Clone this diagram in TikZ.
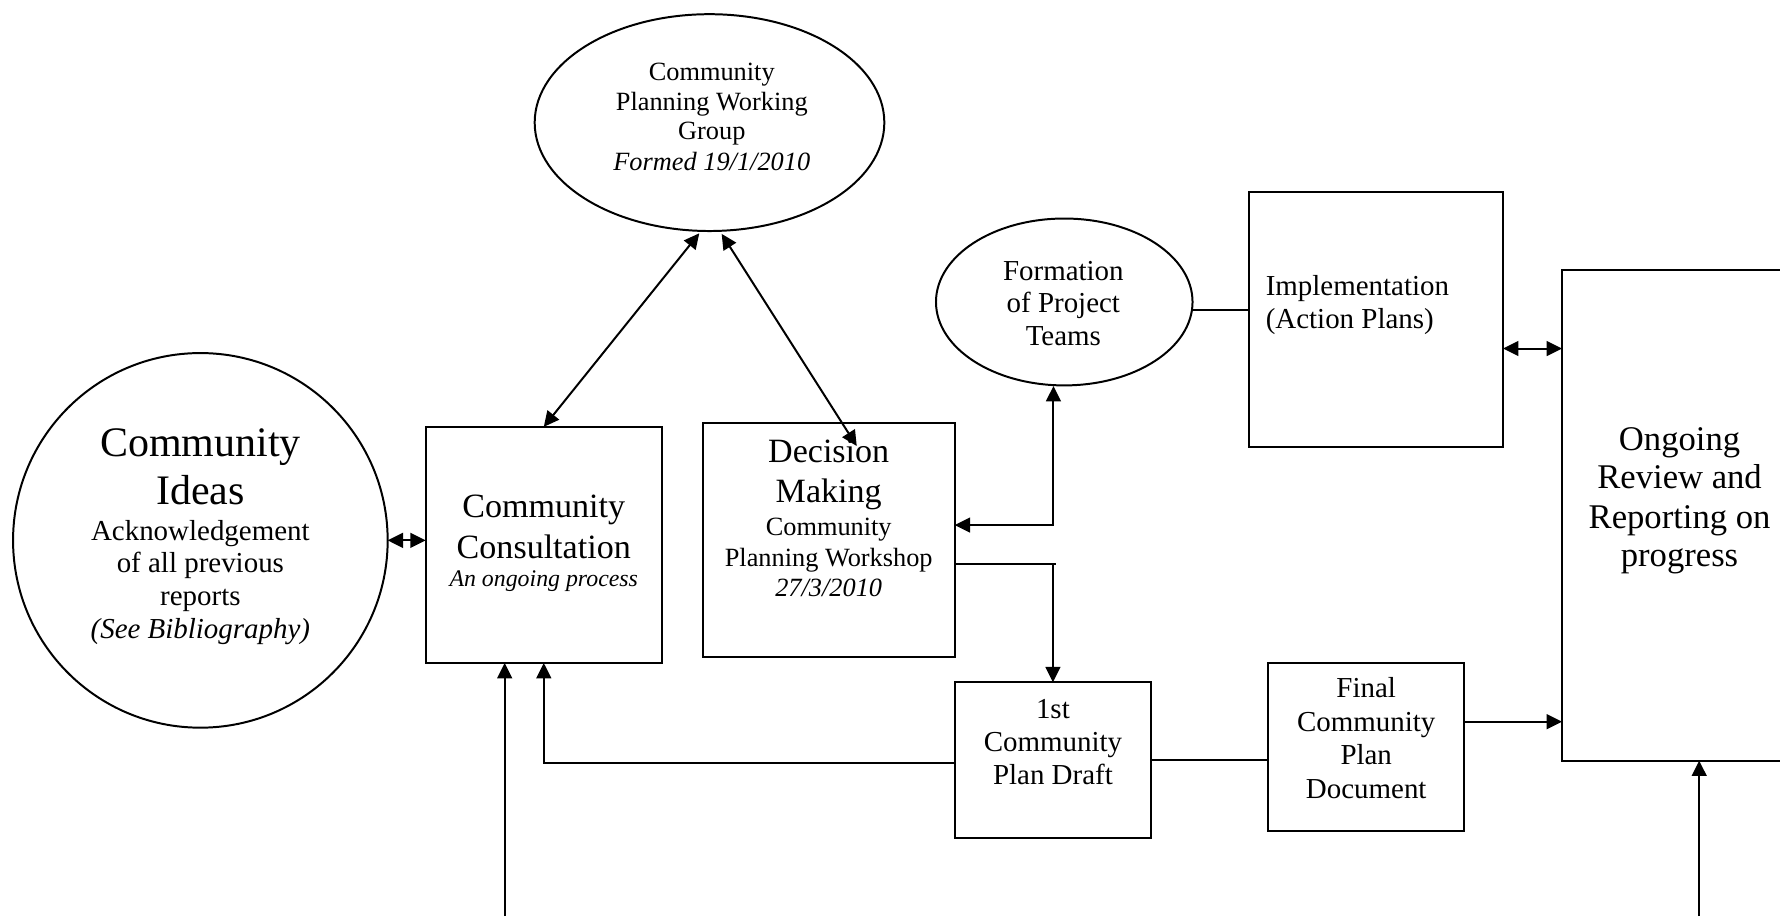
\documentclass[tikz,border=0pt]{standalone}
\usepackage{fontspec}
\setmainfont{Liberation Serif}
\usetikzlibrary{shapes.geometric,arrows.meta}
\begin{document}
\begin{tikzpicture}[x=1pt,y=-1pt, line width=1.75pt,
  box/.style={draw, rectangle, inner sep=0pt, outer sep=0pt},
  oval/.style={draw, ellipse, inner sep=0pt, outer sep=0pt},
  txt/.style={anchor=base, inner sep=0pt, outer sep=0pt},
  big/.style={font=\fontsize{37}{44}\selectfont},
  mid/.style={font=\fontsize{30.5}{36}\selectfont},
  sml/.style={font=\fontsize{25.5}{30}\selectfont},
  sma/.style={font=\fontsize{23.2}{27}\selectfont},
  ita/.style={font=\fontsize{21}{25}\selectfont\itshape},
  arr/.style={-{Triangle[length=13.5pt,width=13pt]}},
  darr/.style={{Triangle[length=13.5pt,width=13pt]}-{Triangle[length=13.5pt,width=13pt]}}
]
\useasboundingbox (0,0) rectangle (1568,807);
\clip (0,0) rectangle (1568,807);

% shapes
\node[box, circle, minimum size=330pt] (ci) at (176.5,476) {};
\node[box, minimum width=208pt, minimum height=208pt] (cc) at (479,480) {};
\node[oval, minimum width=308pt, minimum height=191pt] (pwg) at (625,108) {};
\node[box, minimum width=222pt, minimum height=206pt] (dm) at (730,476) {};
\node[oval, minimum width=226pt, minimum height=147pt] (ft) at (937.5,266) {};
\node[box, minimum width=224pt, minimum height=224pt] (im) at (1212,281.5) {};
\node[box, minimum width=207pt, minimum height=432pt] (og) at (1479.5,454) {};
\node[box, minimum width=173pt, minimum height=137.5pt] (dr) at (927.5,669.75) {};
\node[box, minimum width=172.3pt, minimum height=148pt] (fi) at (1203.5,657.7) {};

% texts
\node[txt, big] (ci1) at (ci.center |- 0,401.7) {Community};
\node[txt, big] (ci2) at (ci.center |- 0,444) {Ideas};
\node[txt, sml] (ci3) at (ci.center |- 0,475.7) {Acknowledgement};
\node[txt, sml] (ci4) at (ci.center |- 0,504.5) {of all previous};
\node[txt, sml] (ci5) at (ci.center |- 0,533.8) {reports};
\node[txt, sml, font=\fontsize{25.5}{30}\selectfont\itshape] (ci6) at (ci.center |- 0,562.3) {(See Bibliography)};

\node[txt, mid, font=\fontsize{30}{36}\selectfont] (cc1) at (cc.center |- 0,455.5) {Community};
\node[txt, mid, font=\fontsize{30}{36}\selectfont] (cc2) at (cc.center |- 0,491.6) {Consultation};
\node[txt, ita] (cc3) at (cc.center |- 0,517) {An ongoing process};

\node[txt, sma] (pw1) at (627,70.5) {Community};
\node[txt, sma] (pw2) at (627,96.9) {Planning Working};
\node[txt, sma] (pw3) at (627,122.7) {Group};
\node[txt, sma, font=\fontsize{23.2}{27}\selectfont\itshape] (pw4) at (627,150) {Formed 19/1/2010};

\node[txt, mid, font=\fontsize{30}{36}\selectfont] (dm1) at (dm.center |- 0,407.6) {Decision};
\node[txt, mid, font=\fontsize{30}{36}\selectfont] (dm2) at (dm.center |- 0,442.8) {Making};
\node[txt, sma] (dm3) at (dm.center |- 0,471.3) {Community};
\node[txt, sma] (dm4) at (dm.center |- 0,498.6) {Planning Workshop};
\node[txt, sma, font=\fontsize{23.2}{27}\selectfont\itshape] (dm5) at (dm.center |- 0,525.6) {27/3/2010};

\node[txt, sml] (ft1) at (936.7,246.7) {Formation};
\node[txt, sml] (ft2) at (936.7,275.5) {of Project};
\node[txt, sml] (ft3) at (936.7,304) {Teams};

\node[txt, sml, anchor=base west] (im1) at (1115,260) {Implementation};
\node[txt, sml, anchor=base west] (im2) at (1115,289) {(Action Plans)};

\node[txt, mid] (og1) at (og.center |- 0,396.4) {Ongoing};
\node[txt, mid] (og2) at (og.center |- 0,430.2) {Review and};
\node[txt, mid] (og3) at (og.center |- 0,465.4) {Reporting on};
\node[txt, mid] (og4) at (og.center |- 0,499.2) {progress};

\node[txt, sml] (dr1) at (dr.center |- 0,633) {1st};
\node[txt, sml] (dr2) at (dr.center |- 0,662) {Community};
\node[txt, sml] (dr3) at (dr.center |- 0,691) {Plan Draft};

\node[txt, sml] (fi1) at (fi.center |- 0,614.3) {Final};
\node[txt, sml] (fi2) at (fi.center |- 0,644.5) {Community};
\node[txt, sml] (fi3) at (fi.center |- 0,673) {Plan};
\node[txt, sml] (fi4) at (fi.center |- 0,703.3) {Document};

% connector end points
\coordinate (pa) at (616,205.5);
\coordinate (pb) at (635.7,206);
\coordinate (dmin) at (754.7,392.9);
\coordinate (fta) at (928,340);
\coordinate (b1) at (444.6,807);
\coordinate (b2) at (1496.8,807);

% connectors
\draw[darr] (ci.east) -- (ci.east -| cc.west);
\draw[darr] (pa) -- (cc.north);
\draw[darr] (pb) -- (dmin);
\draw[darr] (fta) |- (dm.east |- 0,462.5);
\draw (dm.east |- 0,497) -- (930,497);
\draw[arr] (dm.east |- 0,497) -| (dr.north);
\draw[arr] (dr.west |- 0,672) -| (cc.south);
\draw[arr] (b1) -- (b1 |- cc.south);
\draw (dr.east) -- (dr.east -| fi.west);
\draw[arr] (fi.east |- 0,635.7) -- (og.west |- 0,635.7);
\draw (ft.east |- 0,273) -- (im.west |- 0,273);
\draw[darr] (im.east |- 0,307) -- (og.west |- 0,307);
\draw[arr] (b2) -- (b2 |- og.south);
\end{tikzpicture}
\end{document}
